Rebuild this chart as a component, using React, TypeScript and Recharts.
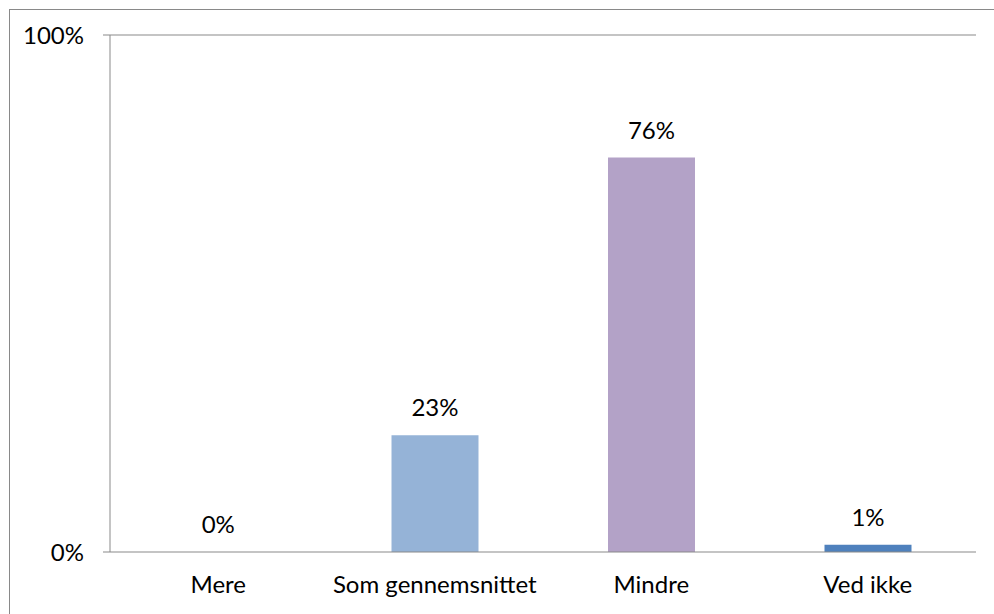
import React from 'react'
import {
  BarChart, Bar, XAxis, YAxis, Cell, LabelList, ReferenceLine, ReferenceDot,
} from 'recharts'

const CATEGORIES = ['Mere', 'Som gennemsnittet', 'Mindre', 'Ved ikke']
const VALUES = [0, 22.6, 76.3, 1.4]
const COLORS = ['#4F81BD', '#95B3D7', '#B3A2C7', '#4F81BD']
const Y_TICKS = [0, 100]
const BOUNDARY_TICKS = [0, 1, 2, 3, 4]

const data = CATEGORIES.map((name, i) => ({ name, value: VALUES[i], idx: i }))

const FONT = 'Lato, "Open Sans", sans-serif'
const GREY = '#898989'
const fmt = (v: number) => `${Math.round(v)}%`
const labelStyle = { fill: '#000', fontSize: 24, fontFamily: FONT }

export default function App() {
  return (
    <div style={{ position: 'fixed', left: 0, top: 0, width: 994, height: 614, overflow: 'hidden', background: '#fff' }}>
      <div style={{ position: 'absolute', left: 9, top: 9, width: 1010, height: 700, border: `1px solid ${GREY}` }} />
      <div style={{ position: 'absolute', left: 0, top: 0 }}>
        <BarChart
          width={994}
          height={614}
          data={data}
          margin={{ top: 35, right: 18, left: 0, bottom: 0 }}
          style={{ fontFamily: FONT }}
        >
          <XAxis
            xAxisId="grid"
            type="number"
            dataKey="idx"
            domain={[0, 4]}
            ticks={BOUNDARY_TICKS}
            height={0}
            axisLine={false}
            tickLine={{ stroke: GREY }}
            tickSize={7}
            tick={() => <g />}
          />
          <XAxis
            dataKey="name"
            height={62}
            axisLine={{ stroke: GREY }}
            tickLine={false}
            tickSize={0}
            tickMargin={24}
            tick={{ fill: '#000', fontSize: 24, fontFamily: FONT }}
            interval={0}
          />
          <YAxis
            width={110}
            domain={[0, 100]}
            ticks={Y_TICKS}
            tickFormatter={(v) => `${v}%`}
            axisLine={{ stroke: GREY }}
            tickLine={{ stroke: GREY }}
            tickSize={7}
            tickMargin={19}
            tick={{ fill: '#000', fontSize: 24, fontFamily: FONT }}
          />
          <YAxis
            yAxisId="right"
            orientation="right"
            width={0}
            domain={[0, 100]}
            tick={false}
            tickLine={false}
            axisLine={{ stroke: GREY }}
          />
          <ReferenceLine y={100} stroke={GREY} />
          <Bar dataKey="value" barSize={87} isAnimationActive={false}>
            {data.map((d, i) => (
              <Cell key={d.name} fill={COLORS[i]} />
            ))}
            <LabelList
              dataKey="value"
              position="top"
              offset={19}
              formatter={(v: number) => fmt(v)}
              style={labelStyle}
            />
          </Bar>
          {data.filter((d) => d.value === 0).map((d) => (
            <ReferenceDot
              key={d.name}
              x={d.name}
              y={0}
              r={0}
              fill="none"
              stroke="none"
              label={{ value: fmt(d.value), position: 'top', offset: 19, style: labelStyle }}
            />
          ))}
        </BarChart>
      </div>
    </div>
  )
}
